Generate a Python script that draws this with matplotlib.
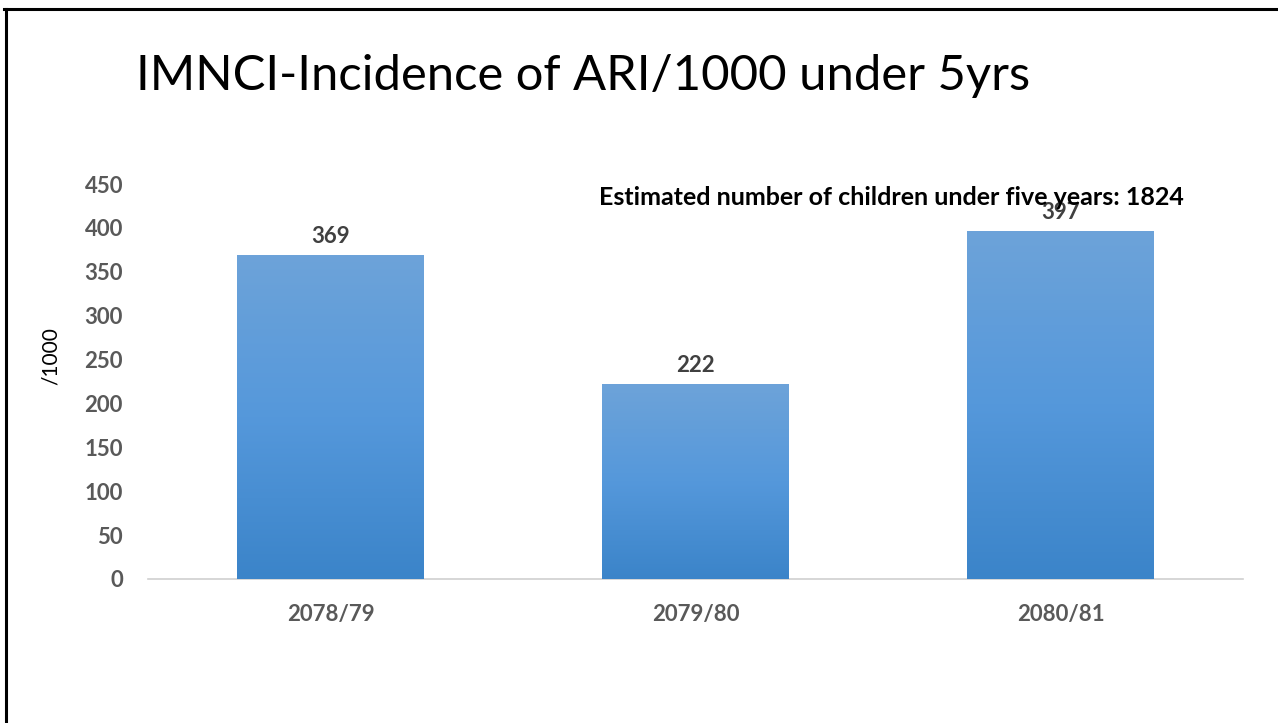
import numpy as np
import matplotlib
matplotlib.use("Agg")
import matplotlib.pyplot as plt
from matplotlib.lines import Line2D
from matplotlib.colors import LinearSegmentedColormap

# data
years = ["2078/79", "2079/80", "2080/81"]
incidence = [369, 222, 397]
yticks = [0, 50, 100, 150, 200, 250, 300, 350, 400, 450]

plt.rcParams['font.family'] = ['Lato', 'DejaVu Sans']

fig = plt.figure(figsize=(12.78, 7.23), dpi=100)
ax = fig.add_axes([0.1158, 0.1992, 0.8568, 0.5463])

x = np.arange(len(years))
bars = ax.bar(x, incidence, width=0.51, color="#5596d8", edgecolor="none", zorder=2)

# vertical gradient inside each bar
cmap = LinearSegmentedColormap.from_list("blu", ["#3b84c9", "#5598db", "#6da3d9"])
grad = np.linspace(0, 1, 256).reshape(-1, 1)
for b in bars:
    x0, y0 = b.get_x(), b.get_y()
    w, h = b.get_width(), b.get_height()
    im = ax.imshow(grad, cmap=cmap, origin="lower", aspect="auto",
                   extent=[x0, x0 + w, y0, y0 + h], zorder=3)
    im.set_clip_path(b)

for xi, v in zip(x, incidence):
    ax.text(xi, v + 9, str(v), ha="center", va="bottom", fontsize=16,
            fontweight="bold", color="#404040", zorder=4)

ax.set_xlim(-0.5, len(years) - 0.5)
ax.set_ylim(0, 450)
ax.set_yticks(yticks)
ax.set_xticks(x)
ax.set_xticklabels(years)
for lab in ax.get_xticklabels() + ax.get_yticklabels():
    lab.set_fontsize(16)
    lab.set_fontweight("bold")
    lab.set_color("#595959")
ax.tick_params(axis="y", length=0, pad=18)
ax.tick_params(axis="x", length=0, pad=18)

for s in ["top", "right", "left"]:
    ax.spines[s].set_visible(False)
ax.spines["bottom"].set_color("#d0d0d0")
ax.spines["bottom"].set_linewidth(1.2)

ax.set_ylabel("/1000", fontsize=15, color="black")
ax.yaxis.set_label_coords(-0.08, 0.565)

ax.text(0.679, 0.967, "Estimated number of children under five years: 1824",
        transform=ax.transAxes, ha="center", va="center", fontsize=18,
        fontweight="bold", color="black", zorder=5)

fig.text(0.456, 0.895, "IMNCI-Incidence of ARI/1000 under 5yrs", ha="center",
         va="center", fontsize=35.3, color="black")

# slide frame lines (top and left)
fig.add_artist(Line2D([0.003, 1.0], [0.987, 0.987], color="black", lw=2.2,
                      transform=fig.transFigure))
fig.add_artist(Line2D([0.0047, 0.0047], [0.0, 0.987], color="black", lw=2.2,
                      transform=fig.transFigure))

fig.savefig("out.png", dpi=100)
